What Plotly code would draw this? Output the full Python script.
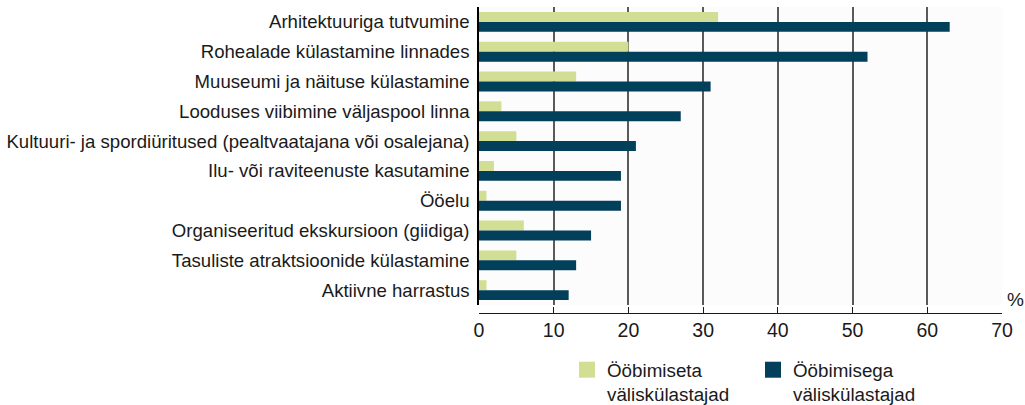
import plotly.graph_objects as go

categories = [
    "Arhitektuuriga tutvumine",
    "Rohealade külastamine linnades",
    "Muuseumi ja näituse külastamine",
    "Looduses viibimine väljaspool linna",
    "Kultuuri- ja spordiüritused (pealtvaatajana või osalejana)",
    "Ilu- või raviteenuste kasutamine",
    "Ööelu",
    "Organiseeritud ekskursioon (giidiga)",
    "Tasuliste atraktsioonide külastamine",
    "Aktiivne harrastus",
]
without_overnight = [32, 20, 13, 3, 5, 2, 1, 6, 5, 1]
with_overnight = [63, 52, 31, 27, 21, 19, 19, 15, 13, 12]
series_names = ["Ööbimiseta<br>väliskülastajad", "Ööbimisega<br>väliskülastajad"]
series_colors = ["#d3de95", "#013f5b"]
x_ticks = [0, 10, 20, 30, 40, 50, 60, 70]

FONT = "Liberation Sans, Arial, sans-serif"

fig = go.Figure()
for vals, name, col in zip([without_overnight, with_overnight], series_names, series_colors):
    fig.add_trace(go.Bar(y=categories, x=vals, orientation="h", name=name,
                         legendgroup=name, showlegend=False,
                         marker=dict(color=col, line=dict(width=0))))
for name, col in zip(series_names, series_colors):
    fig.add_trace(go.Scatter(x=[None], y=[None], mode="markers", name=name,
                             legendgroup=name, showlegend=True,
                             marker=dict(symbol="square", size=17, color=col)))

fig.update_layout(
    width=1025, height=405,
    margin=dict(l=479, r=23, t=7, b=92, autoexpand=False),
    barmode="group", bargap=1/3, bargroupgap=0,
    paper_bgcolor="white", plot_bgcolor="#fcfcfc",
    font=dict(family=FONT, size=18.6, color="#1a1a1a"),
    showlegend=True,
    legend=dict(orientation="h", xref="container", yref="container",
                x=567/1025, y=(405-351)/405, xanchor="left", yanchor="top",
                font=dict(size=18.8, family=FONT), itemwidth=30, valign="top",
                entrywidth=141, entrywidthmode="pixels",
                bgcolor="rgba(0,0,0,0)", traceorder="normal"),
    xaxis=dict(range=[0, 70], tickvals=x_ticks, showgrid=True, gridcolor="#5a5a5a",
               gridwidth=1.5, zeroline=False, showline=True, linecolor="#1a1a1a",
               linewidth=1, ticks="inside", ticklen=6, tickcolor="#1a1a1a",
               tickfont=dict(size=19.5, family=FONT), anchor="free", position=0,
               automargin=False),
    yaxis=dict(categoryorder="array", categoryarray=categories, autorange="reversed",
               domain=[0.026, 1], showline=True, linecolor="#000000", linewidth=1.5,
               ticks="", showgrid=False, tickfont=dict(size=18.6, family=FONT),
               ticklabelstandoff=4, automargin=False),
)
fig.add_annotation(text="%", xref="paper", yref="paper", x=1.0, y=0.045,
                   xanchor="left", yanchor="middle", showarrow=False,
                   font=dict(size=19, family=FONT), xshift=3)
fig.write_html("out.html", config={"displayModeBar": False},
               post_script="document.body.style.margin='0';document.body.style.padding='0';")
